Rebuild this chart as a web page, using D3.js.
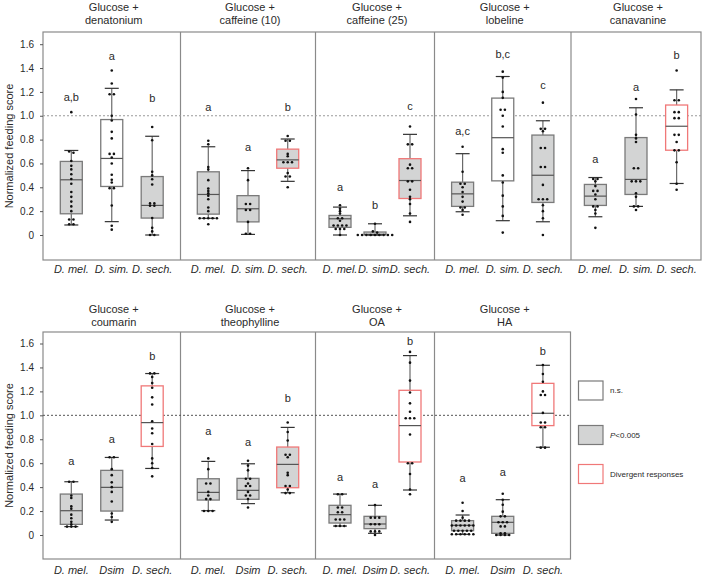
<!DOCTYPE html>
<html><head><meta charset="utf-8">
<script src="https://cdn.jsdelivr.net/npm/d3@7"></script>
<style>
body{margin:0;background:#fff}
svg{display:block;font-family:"Liberation Sans",Arial,Helvetica,sans-serif}
</style>
</head><body>
<svg id="chart" width="702" height="576"></svg>
<script>
// ---------------- DATA ----------------
const panelTitles = [
  ["Glucose +","denatonium"],["Glucose +","caffeine (10)"],["Glucose +","caffeine (25)"],
  ["Glucose +","lobeline"],["Glucose +","canavanine"],
  ["Glucose +","coumarin"],["Glucose +","theophylline"],["Glucose +","OA"],["Glucose +","HA"]
];
const panelRow = [0,0,0,0,0,1,1,1,1];
const panelCol = [0,1,2,3,4,0,1,2,3];
const speciesTop = ["D. mel.","D. sim.","D. sech."];
const speciesBottom = ["D. mel.","Dsim","D. sech."];

const q1 = [[0.178,0.407,0.142],[0.175,0.11,0.56],[0.064,0.0,0.306],[0.24,0.454,0.273],[0.248,0.34,0.711],
            [0.089,0.2,0.74],[0.292,0.298,0.395],[0.1,0.053,0.61],[0.036,0.014,0.914]];
const medians = [[0.463,0.642,0.248],[0.34,0.22,0.63],[0.136,0.005,0.457],[0.345,0.816,0.501],[0.326,0.466,0.912],
            [0.203,0.398,0.939],[0.356,0.373,0.59],[0.17,0.092,0.914],[0.081,0.106,1.017]];
const q3 = [[0.617,0.968,0.49],[0.53,0.33,0.72],[0.164,0.025,0.64],[0.443,1.148,0.838],[0.424,0.817,1.09],
            [0.342,0.54,1.246],[0.47,0.473,0.735],[0.248,0.156,1.209],[0.12,0.156,1.267]];
const whiskerLo = [[0.084,0.112,0.0],[0.14,0.005,0.45],[0.0,0.0,0.161],[0.195,0.12,0.111],[0.153,0.24,0.432],
            [0.07,0.125,0.556],[0.203,0.262,0.353],[0.075,0.014,0.376],[0.006,0.0,0.733]];
const whiskerHi = [[0.709,1.23,0.828],[0.74,0.54,0.805],[0.234,0.094,0.844],[0.682,1.329,0.958],[0.482,1.067,1.217],
            [0.445,0.648,1.349],[0.615,0.595,0.899],[0.342,0.248,1.499],[0.167,0.295,1.418]];

const points = [
  [[1.03,0.70,0.69,0.62,0.58,0.55,0.51,0.47,0.43,0.36,0.32,0.28,0.24,0.20,0.13,0.13,0.09,0.09],
   [1.38,1.27,1.18,1.18,1.00,0.96,0.865,0.81,0.68,0.68,0.65,0.60,0.505,0.463,0.44,0.393,0.393,0.248,0.078,0.045],
   [0.906,0.795,0.53,0.50,0.468,0.424,0.265,0.265,0.245,0.245,0.142,0.06,0.03,0.0,0.0]],
  [[0.79,0.76,0.57,0.55,0.46,0.39,0.37,0.35,0.33,0.30,0.23,0.20,0.14,0.14,0.14,0.14,0.14,0.09],
   [0.56,0.46,0.26,0.26,0.21,0.21,0.11,0.01,0.01],
   [0.83,0.79,0.79,0.68,0.66,0.61,0.61,0.61,0.52,0.49,0.49,0.40]],
  [[0.25,0.22,0.20,0.18,0.14,0.14,0.12,0.08,0.08,0.08,0.08,0.05,0.05,0.05,0.0],
   [0.094,0.03,0.02,0,0,0,0,0,0,0,0,0],
   [0.91,0.76,0.76,0.59,0.56,0.56,0.45,0.45,0.38,0.32,0.30,0.26,0.18,0.11]],
  [[0.74,0.53,0.43,0.43,0.40,0.36,0.32,0.28,0.23,0.23,0.21,0.17],
   [1.37,1.32,1.20,1.15,1.05,1.05,1.0,0.91,0.72,0.69,0.50,0.44,0.33,0.24,0.16,0.02],
   [1.11,0.89,0.89,0.87,0.73,0.73,0.57,0.57,0.42,0.30,0.30,0.30,0.25,0.20,0.14,0.0]],
  [[0.47,0.47,0.45,0.41,0.37,0.37,0.34,0.30,0.24,0.24,0.21,0.18,0.06],
   [1.14,1.01,0.84,0.81,0.78,0.56,0.56,0.45,0.45,0.45,0.35,0.32,0.24,0.24,0.21],
   [1.38,1.13,1.13,1.03,1.03,0.98,0.98,0.84,0.84,0.78,0.71,0.71,0.61,0.43,0.38]],
  [[0.445,0.445,0.33,0.31,0.24,0.22,0.17,0.14,0.11,0.09,0.07,0.07,0.07],
   [0.65,0.65,0.55,0.50,0.44,0.40,0.36,0.28,0.18,0.15,0.11],
   [1.35,1.35,1.32,1.27,1.23,1.15,1.09,0.95,0.89,0.85,0.76,0.64,0.60,0.56,0.49]],
  [[0.64,0.55,0.43,0.43,0.36,0.33,0.30,0.30,0.20,0.20,0.20],
   [0.62,0.58,0.54,0.47,0.47,0.43,0.41,0.41,0.36,0.33,0.33,0.30,0.23],
   [0.94,0.86,0.79,0.67,0.67,0.65,0.52,0.50,0.41,0.41,0.38,0.35,0.35]],
  [[0.34,0.34,0.23,0.23,0.19,0.19,0.13,0.13,0.13,0.075,0.075,0.075],
   [0.25,0.145,0.145,0.145,0.09,0.09,0.09,0.03,0.03,0.03,0.0],
   [1.53,1.44,1.29,1.19,1.10,1.03,0.975,0.975,0.975,0.84,0.60,0.60,0.51,0.38,0.34]],
  [[0.27,0.20,0.145,0.12,0.12,0.12,0.12,0.08,0.08,0.08,0.08,0.08,0.08,0.036,0.036,0.036,0.036,0.036,0.006,0.006,0.006,0.006,0.006,0.006],
   [0.345,0.295,0.253,0.195,0.156,0.156,0.106,0.106,0.106,0.072,0.072,0.014,0.014,0.0,0.0,0.0,0.0],
   [1.42,1.345,1.28,1.20,1.17,1.17,1.02,0.94,0.94,0.90,0.90,0.73,0.73]]
];

const letters = [["a,b","a","b"],["a","a","b"],["a","b","c"],["a,c","b,c","c"],["a","a","b"],
                 ["a","a","b"],["a","a","b"],["a","a","b"],["a","a","b"]];
const letterY = [[1.16,1.50,1.15],[1.075,0.735,1.075],[0.405,0.253,1.08],[0.875,1.515,1.26],[0.64,1.237,1.507],
                 [0.62,0.80,1.494],[0.868,0.773,1.147],[0.487,0.423,1.621],[0.479,0.523,1.532]];
// g = P<0.005 (grey), w = n.s. (white), r suffix = divergent (red outline)
const boxStatus = [["g","w","g"],["g","g","gr"],["g","g","gr"],["g","w","g"],["g","g","wr"],
                   ["g","g","wr"],["g","g","gr"],["g","g","wr"],["g","g","wr"]];

const yTicks = [0,0.2,0.4,0.6,0.8,1.0,1.2,1.4,1.6];
const yTickLabels = ["0","0.2","0.4","0.6","0.8","1.0","1.2","1.4","1.6"];
const yTitle = "Normalized feeding score";
const legendKeys = ["w","g","wr"];

// ---------------- LAYOUT ----------------
const colEdges = [43, 180.5, 315.5, 434.5, 571, 701];
const colPadding = [0.7, 0.7, 0.7, 0.7, 0.6];
const rows = [
  {top:32, bottom:260, zero:235, max:44.2, right:701, titleY:7, catY:273, dotted:"#9a9a9a"},
  {top:332, bottom:559, zero:535, max:343.5, right:570.5, titleY:309, catY:574, dotted:"#555"}
];
const GREY_FILL = "#d3d4d4", BOX_STROKE = "#7a7a7a", RED = "#f07878", TEXT = "#2a2a2a", FRAME = "#8a8a8a";

const svg = d3.select("#chart");

function swarm(vals){
  const s = vals.slice().sort((a,b)=>b-a);
  const out = [];
  let i = 0;
  while(i < s.length){
    let j = i;
    while(j+1 < s.length && s[i]-s[j+1] < 0.012) j++;
    const n = j-i+1;
    for(let k=0;k<n;k++) out.push({v:s[i+k], dx:(k-(n-1)/2)*4.3});
    i = j+1;
  }
  return out;
}

rows.forEach((row, r) => {
  const y = d3.scaleLinear().domain([0,1.6]).range([row.zero,row.max]);
  row.y = y;
  const g = svg.append("g");
  g.append("rect").attr("x",colEdges[0]).attr("y",row.top)
    .attr("width",row.right-colEdges[0]).attr("height",row.bottom-row.top)
    .attr("fill","none").attr("stroke",FRAME).attr("stroke-width",1.2);
  const nCols = r===0 ? 5 : 4;
  for(let c=1;c<nCols;c++){
    g.append("line").attr("x1",colEdges[c]).attr("x2",colEdges[c])
      .attr("y1",row.top).attr("y2",row.bottom).attr("stroke",FRAME).attr("stroke-width",1.2);
  }
  g.append("line").attr("x1",colEdges[0]).attr("x2",row.right)
    .attr("y1",y(1)).attr("y2",y(1)).attr("stroke",row.dotted)
    .attr("stroke-width",1).attr("stroke-dasharray","2,2");
  const ax = g.append("g").attr("transform",`translate(${colEdges[0]},0)`)
    .call(d3.axisLeft(y).tickValues(yTicks).tickFormat((d,i)=>yTickLabels[i]).tickSize(3).tickPadding(6));
  ax.select(".domain").remove();
  ax.selectAll("line").attr("stroke","#555");
  ax.selectAll("text").attr("font-size",10).attr("fill",TEXT).attr("font-family","Liberation Sans, Arial, sans-serif");
  g.append("text").attr("transform",`translate(9,${(row.top+row.bottom)/2}) rotate(-90)`)
    .attr("text-anchor","middle").attr("dy","0.35em").attr("font-size",11).attr("fill",TEXT).text(yTitle);
});

panelTitles.forEach((title, p) => {
  const row = rows[panelRow[p]], y = row.y;
  const c = panelCol[p];
  const x0 = colEdges[c], x1 = colEdges[c+1];
  const species = panelRow[p]===0 ? speciesTop : speciesBottom;
  const x = d3.scalePoint().domain(species).range([x0,x1]).padding(colPadding[c]);
  const g = svg.append("g");

  title.forEach((t,i)=>{
    g.append("text").attr("x",(x0+x1)/2+2).attr("y",row.titleY+i*13).attr("dy","0.35em")
      .attr("text-anchor","middle").attr("font-size",11).attr("fill",TEXT).text(t);
  });
  species.forEach(s=>{
    g.append("text").attr("x",x(s)).attr("y",row.catY).attr("text-anchor","middle")
      .attr("font-size",11).attr("font-style","italic").attr("fill",TEXT).text(s);
  });

  species.forEach((s,k)=>{
    const cx = x(s);
    const st = boxStatus[p][k];
    const bw = 22, cw = 14;
    g.append("line").attr("x1",cx).attr("x2",cx).attr("y1",y(whiskerLo[p][k])).attr("y2",y(whiskerHi[p][k]))
      .attr("stroke","#6a6a6a").attr("stroke-width",1.2);
    const top = y(q3[p][k]), bot = y(q1[p][k]);
    g.append("rect").attr("x",cx-bw/2).attr("y",top).attr("width",bw).attr("height",Math.max(bot-top,0.5))
      .attr("fill", st.startsWith("g") ? GREY_FILL : "#fff")
      .attr("stroke", st.endsWith("r") ? RED : BOX_STROKE).attr("stroke-width",1.3);
    g.append("line").attr("x1",cx-bw/2).attr("x2",cx+bw/2).attr("y1",y(medians[p][k])).attr("y2",y(medians[p][k]))
      .attr("stroke","#555").attr("stroke-width",1.2);
    [whiskerLo[p][k], whiskerHi[p][k]].forEach(v=>{
      g.append("line").attr("x1",cx-cw/2).attr("x2",cx+cw/2).attr("y1",y(v)).attr("y2",y(v))
        .attr("stroke","#333").attr("stroke-width",1.2);
    });
    g.selectAll(null).data(swarm(points[p][k])).enter().append("circle")
      .attr("cx",d=>cx+d.dx).attr("cy",d=>y(d.v)).attr("r",1.3).attr("fill","#111");
    g.append("text").attr("x",cx).attr("y",y(letterY[p][k])).attr("dy","0.35em")
      .attr("text-anchor","middle").attr("font-size",11).attr("fill",TEXT).text(letters[p][k]);
  });
});

const lg = svg.append("g");
const legendY = [381, 425.5, 464.5];
legendKeys.forEach((key,i)=>{
  lg.append("rect").attr("x",578.5).attr("y",legendY[i]).attr("width",24.5).attr("height",19)
    .attr("fill", key.startsWith("g") ? GREY_FILL : "#fff")
    .attr("stroke", key.endsWith("r") ? RED : BOX_STROKE).attr("stroke-width",1.2);
  const t = lg.append("text").attr("x",610).attr("y",legendY[i]+9.5).attr("dy","0.35em")
    .attr("font-size",8).attr("fill",TEXT);
  if(key==="g"){
    t.append("tspan").attr("font-style","italic").text("P");
    t.append("tspan").text("<0.005");
  } else if(key==="w"){
    t.text("n.s.");
  } else {
    t.text("Divergent responses");
  }
});
</script>
</body></html>
